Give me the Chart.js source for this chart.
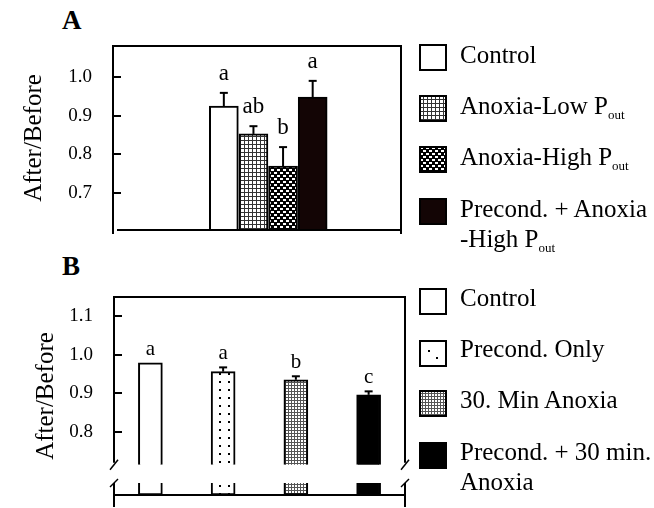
<!DOCTYPE html>
<html>
<head>
<meta charset="utf-8">
<script src="https://cdn.jsdelivr.net/npm/chart.js@4.4.0/dist/chart.umd.min.js"></script>
<style>
    body { margin: 0; background: #fff; width: 654px; height: 508px; position: relative; overflow: hidden;
           font-family: "Liberation Serif", serif; color: #000; }
    canvas.grafica { position: absolute; left: 0; }
    .panel { position: absolute; left: 62px; font-weight: bold; font-size: 27px; line-height: 30px; }
    .muestra { position: absolute; left: 419px; width: 28px; height: 27px; }
    .texto { position: absolute; left: 460px; font-size: 25px; line-height: 30px; white-space: nowrap; }
    .texto sub { font-size: 13px; vertical-align: -5px; line-height: 0; }
</style>
</head>
<body>
<div class="panel" style="top:5px">A</div>
<div class="panel" style="top:251px">B</div>
<canvas class="grafica" id="graficaA" width="420" height="250" style="top:0"></canvas>
<canvas class="grafica" id="graficaB" width="420" height="258" style="top:250px"></canvas>
<div id="leyendaA"></div>
<div id="leyendaB"></div>

<script>
// Datos del panel A
const categoriasA = ['Control', 'Anoxia-Low P_out', 'Anoxia-High P_out', 'Precond. + Anoxia\n-High P_out'];
const valoresA = [0.925, 0.853, 0.770, 0.948];
const erroresA = [0.034, 0.020, 0.049, 0.042];
const letrasA = ['a', 'ab', 'b', 'a'];
const ticksA = [0.7, 0.8, 0.9, 1.0];
const rangoA = [0.605, 1.08];

// Datos del panel B (eje Y cortado)
const categoriasB = ['Control', 'Precond. Only', '30. Min Anoxia', 'Precond. + 30 min.\nAnoxia'];
const valoresB = [0.979, 0.956, 0.935, 0.896];
const erroresB = [0, 0.011, 0.009, 0.009];
const letrasB = ['a', 'a', 'b', 'c'];
const ticksB = [0.8, 0.9, 1.0, 1.1];
const rangoB = [0.637, 1.149];
const corteB = [0.668, 0.715];

const fuente = 'Liberation Serif';

// Tramas de relleno para las barras
function patron(tipo) {
    const c = document.createElement('canvas');
    const g = c.getContext('2d');
    if (tipo === 'rejilla') {          // rejilla clara
        c.width = 4; c.height = 4;
        g.fillStyle = '#fff'; g.fillRect(0, 0, 4, 4);
        g.fillStyle = '#333'; g.fillRect(0, 0, 4, 1); g.fillRect(0, 0, 1, 4);
    } else if (tipo === 'oscuro') {    // negro con puntos blancos al tresbolillo
        c.width = 6; c.height = 6;
        g.fillStyle = '#000'; g.fillRect(0, 0, 6, 6);
        g.fillStyle = '#fff';
        g.fillRect(1, 1, 3, 2);
        g.fillRect(4, 4, 2, 2); g.fillRect(0, 4, 1, 2);
    } else if (tipo === 'puntos') {    // blanco con puntos sueltos
        c.width = 9; c.height = 8;
        g.fillStyle = '#fff'; g.fillRect(0, 0, 9, 8);
        g.fillStyle = '#000'; g.fillRect(3, 3, 2, 2);
    } else if (tipo === 'cuadricula') { // cuadricula fina
        c.width = 3; c.height = 3;
        g.fillStyle = '#fff'; g.fillRect(0, 0, 3, 3);
        g.fillStyle = '#555'; g.fillRect(0, 0, 3, 1); g.fillRect(0, 0, 1, 3);
    }
    return g.createPattern(c, 'repeat');
}

const rellenosA = ['#fff', patron('rejilla'), patron('oscuro'), '#130505'];
const rellenosB = ['#fff', patron('puntos'), patron('cuadricula'), '#000'];

// Plugin: marco, marcas hacia dentro, barras de error y letras
function extras(cfg) {
    return {
        id: 'extras',
        afterDatasetsDraw(chart) {
            const { ctx, chartArea: a, scales: { y } } = chart;
            ctx.save();
            ctx.strokeStyle = '#000';
            ctx.lineWidth = 2;
            const linea = (x1, y1, x2, y2) => { ctx.beginPath(); ctx.moveTo(x1, y1); ctx.lineTo(x2, y2); ctx.stroke(); };

            y.ticks.forEach(t => {
                const py = Math.round(y.getPixelForValue(t.value));
                linea(a.left, py, a.left + 8, py);
            });
            linea(a.left - 1, a.top, a.right + 1, a.top);
            linea(a.left + cfg.inicioBase, a.bottom, a.right, a.bottom);

            if (cfg.corte) {
                const yArriba = y.getPixelForValue(cfg.corte[1]);
                const yAbajo = y.getPixelForValue(cfg.corte[0]);
                [a.left, a.right].forEach(x => {
                    linea(x, a.top, x, yArriba - 2);
                    linea(x, yAbajo, x, a.bottom + 12);
                    ctx.lineWidth = 1.5;
                    linea(x - 4, yArriba + 5, x + 4, yArriba - 5);
                    linea(x - 4, yAbajo + 4, x + 4, yAbajo - 4);
                    ctx.lineWidth = 2;
                });
            } else {
                linea(a.left, a.top, a.left, a.bottom + 4);
                linea(a.right, a.top, a.right, a.bottom + 4);
            }

            // barras de error y letras de significancia
            const meta = chart.getDatasetMeta(0);
            ctx.fillStyle = '#000';
            ctx.textAlign = 'center';
            ctx.textBaseline = 'alphabetic';
            ctx.font = cfg.tamLetra + 'px "' + fuente + '"';
            meta.data.forEach((barra, i) => {
                const v = cfg.valores[i], e = cfg.errores[i];
                const yErr = y.getPixelForValue(v + e);
                if (e > 0) {
                    linea(barra.x, y.getPixelForValue(v), barra.x, yErr);
                    linea(barra.x - 4, yErr, barra.x + 4, yErr);
                }
                ctx.fillText(cfg.letras[i], barra.x, yErr - cfg.separacion);
            });
            ctx.restore();
        }
    };
}

function ejeY(rango, ticks, anchura, tituloPad) {
    return {
        min: rango[0],
        max: rango[1],
        afterBuildTicks: (s) => { s.ticks = ticks.map(v => ({ value: v })); },
        // ancho fijo del eje y sin relleno vertical extra por las etiquetas
        afterFit: (s) => { s.width = anchura; s.paddingTop = 0; s.paddingBottom = 0; },
        grid: { display: false, drawTicks: false },
        border: { display: false },
        ticks: {
            padding: 21,
            color: '#000',
            font: { family: fuente, size: 19 },
            callback: (v) => Number(v).toFixed(1)
        },
        title: {
            display: true,
            text: 'After/Before',
            color: '#000',
            font: { family: fuente, size: 25 },
            padding: { top: tituloPad, bottom: 0 }
        }
    };
}

// Panel A
new Chart(document.getElementById('graficaA'), {
    type: 'bar',
    data: {
        datasets: [{
            data: valoresA.map((v, i) => ({ x: i + 1, y: v })),
            base: rangoA[0],
            backgroundColor: rellenosA,
            borderColor: '#000',
            borderWidth: 2,
            borderSkipped: 'bottom',
            barThickness: 29
        }]
    },
    options: {
        responsive: false,
        animation: false,
        events: [],
        layout: { padding: { top: 46, bottom: 20, left: 0, right: 19 } },
        plugins: { legend: { display: false }, tooltip: { enabled: false } },
        scales: {
            x: { type: 'linear', min: -1.77, max: 6.01, display: false },
            y: ejeY(rangoA, ticksA, 113, 19)
        }
    },
    plugins: [extras({ valores: valoresA, errores: erroresA, letras: letrasA, tamLetra: 23, separacion: 13, inicioBase: 4 })]
});

// Panel B
new Chart(document.getElementById('graficaB'), {
    type: 'bar',
    data: {
        labels: categoriasB,
        datasets: [{
            data: valoresB,
            base: corteB[1],
            backgroundColor: rellenosB,
            borderColor: '#000',
            borderWidth: 2,
            borderSkipped: 'bottom',
            barThickness: 24,
            grouped: false
        }, {
            data: valoresB.map(() => corteB[0]),
            base: rangoB[0],
            backgroundColor: rellenosB,
            borderColor: '#000',
            borderWidth: 2,
            borderSkipped: 'top',
            barThickness: 24,
            grouped: false
        }]
    },
    options: {
        responsive: false,
        animation: false,
        events: [],
        layout: { padding: { top: 47, bottom: 13, left: 0, right: 15 } },
        plugins: { legend: { display: false }, tooltip: { enabled: false } },
        scales: {
            x: { display: false },
            y: ejeY(rangoB, ticksB, 114, 31)
        }
    },
    plugins: [extras({ valores: valoresB, errores: erroresB, letras: letrasB, tamLetra: 21, separacion: 8, inicioBase: 0, corte: corteB })]
});

// Leyendas a la derecha
function leyenda(id, categorias, rellenos, centros, ajuste, tramaLeyenda) {
    const cont = document.getElementById(id);
    categorias.forEach((nombre, i) => {
        const m = document.createElement('canvas');
        m.className = 'muestra';
        m.width = 28; m.height = 27;
        m.style.top = (centros[i] - 13.5) + 'px';
        const g = m.getContext('2d');
        g.fillStyle = tramaLeyenda[i] || rellenos[i];
        g.fillRect(0, 0, 28, 27);
        g.strokeStyle = '#000'; g.lineWidth = 2;
        g.strokeRect(1, 1, 26, 25);
        cont.appendChild(m);

        const t = document.createElement('div');
        t.className = 'texto';
        t.style.top = (centros[i] + ajuste) + 'px';
        t.innerHTML = nombre.replace(/_out/g, '<sub>out</sub>').replace('\n', '<br>');
        cont.appendChild(t);
    });
}

// trama con solo dos puntos para la muestra de "Precond. Only"
function dosPuntos() {
    const c = document.createElement('canvas');
    c.width = 28; c.height = 27;
    const g = c.getContext('2d');
    g.fillStyle = '#fff'; g.fillRect(0, 0, 28, 27);
    g.fillStyle = '#000'; g.fillRect(9, 10, 2, 2); g.fillRect(17, 17, 2, 2);
    return g.createPattern(c, 'no-repeat');
}

leyenda('leyendaA', categoriasA, rellenosA, [57.5, 108.5, 159.5, 211.5], -18, []);
leyenda('leyendaB', categoriasB, rellenosB, [301.5, 353, 403.5, 455.5], -19, [null, dosPuntos()]);
</script>
</body>
</html>
